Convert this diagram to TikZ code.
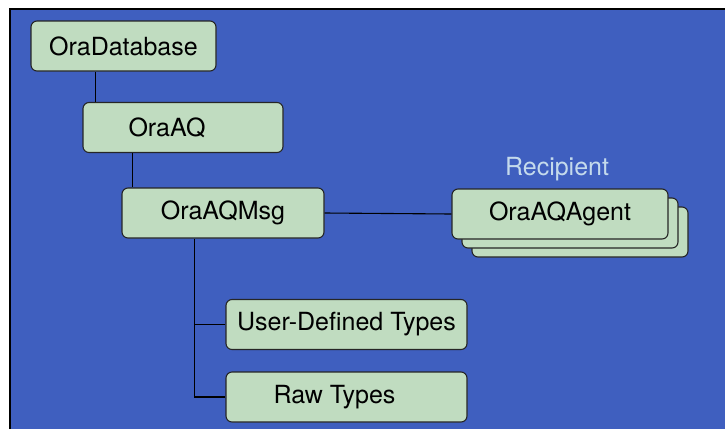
\documentclass[tikz,border=0pt]{standalone}
\usepackage{fontspec}
\setmainfont{TeX Gyre Heros}
\usetikzlibrary{shadows}
\definecolor{bgblue}{RGB}{63,95,191}
\definecolor{boxgreen}{RGB}{192,220,192}
\definecolor{lightlabel}{RGB}{196,218,236}
\begin{document}
\begin{tikzpicture}[x=1pt, y=-1pt,
        box/.style={draw=black!85, fill=boxgreen, line width=1.1pt, rounded corners=6pt,
            inner sep=0pt, minimum height=50pt, font=\fontsize{25}{29}\selectfont},
        link/.style={black, line width=1.1pt}]
        \useasboundingbox (0,0) rectangle (725,429);
        \fill[bgblue] (10,9) rectangle (725,429);
        \draw[black, line width=2pt] (10,429) -- (10,9) -- (725,9);

        \node[box, minimum width=185pt] (dbase) at (123.5,46) {OraDatabase};
        \node[box, minimum width=200pt] (aq) at (183,127.5) {OraAQ\hspace*{32pt}};
        \node[box, minimum width=202pt] (msg) at (223,213) {OraAQMsg};
        \node[box, minimum width=216pt,
            copy shadow={shadow xshift=20pt, shadow yshift=-18pt, fill=boxgreen, draw=black!85},
            copy shadow={shadow xshift=10pt, shadow yshift=-9pt, fill=boxgreen, draw=black!85}]
            (agent) at (560,214) {OraAQAgent};
        \node[lightlabel, font=\fontsize{25}{29}\selectfont] (recip) at (557,169) {Recipient};
        \node[box, minimum width=241pt] (udt) at (346.5,324.5) {User-Defined Types};
        \node[box, minimum width=241pt] (raw) at (346.5,397) {Raw Types\hspace*{24pt}};

        \draw[link] ([xshift=65pt]dbase.south west) -- ([xshift=65pt]dbase.south west |- aq.north);
        \draw[link] ([xshift=50pt]aq.south west) -- ([xshift=50pt]aq.south west |- msg.north);
        \draw[link] (msg.east) -- (agent.west);
        \coordinate (stem) at ([xshift=73pt]msg.south west);
        \draw[link] (stem) |- (raw.west);
        \draw[link] (udt.west) -- (udt.west -| stem);
    \end{tikzpicture}
\end{document}
